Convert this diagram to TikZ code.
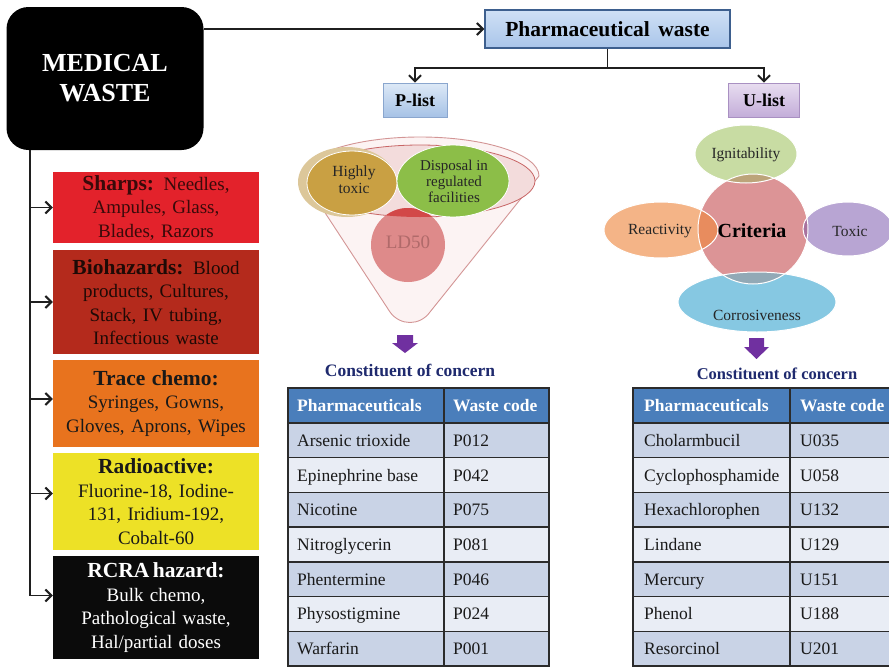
\documentclass[tikz,border=0pt]{standalone}
\usepackage{fontspec}
\setmainfont{Liberation Serif}
\usetikzlibrary{arrows.meta,shapes.geometric}
\newcommand\setsz[2]{\fontsize{#1}{#2}\selectfont}
\newcommand\cathead[1]{{\bfseries\fontsize{21.5}{23.5}\selectfont #1}}

\definecolor{sharpred}{HTML}{E3222B}
\definecolor{sharptxt}{HTML}{3A0A0A}
\definecolor{biored}{HTML}{B42A1C}
\definecolor{biotxt}{HTML}{1E0A06}
\definecolor{traceor}{HTML}{E8731E}
\definecolor{radyel}{HTML}{EDE126}
\definecolor{rcrablk}{HTML}{0B0B0B}
\definecolor{pwtop}{HTML}{CFE0F5}
\definecolor{pwbot}{HTML}{A9C5EA}
\definecolor{pwline}{HTML}{3D5F8E}
\definecolor{pltop}{HTML}{DDE9F7}
\definecolor{plbot}{HTML}{A6C2E6}
\definecolor{plline}{HTML}{8AA6CE}
\definecolor{ultop}{HTML}{E8DDF0}
\definecolor{ulbot}{HTML}{C3ADD9}
\definecolor{ulline}{HTML}{A990C2}
\definecolor{funfill}{HTML}{FCF3F3}
\definecolor{funline}{HTML}{D39595}
\definecolor{innfill}{HTML}{F3DCDC}
\definecolor{innline}{HTML}{C86666}
\definecolor{beige}{HTML}{DCC79A}
\definecolor{gold}{HTML}{C9A043}
\definecolor{leaf}{HTML}{8CBE48}
\definecolor{ldpink}{HTML}{DE8A8A}
\definecolor{ldred}{HTML}{D24848}
\definecolor{ldtxt}{HTML}{B06A6A}
\definecolor{purp}{HTML}{7030A0}
\definecolor{navy}{HTML}{1F2A6E}
\definecolor{ignit}{HTML}{C8DCA3}
\definecolor{react}{HTML}{F4B487}
\definecolor{toxc}{HTML}{B8A5D3}
\definecolor{corro}{HTML}{86C8E2}
\definecolor{crit}{HTML}{DC9496}
\definecolor{ovig}{HTML}{BCA47A}
\definecolor{ovre}{HTML}{E88C5E}
\definecolor{ovto}{HTML}{A8729E}
\definecolor{ovco}{HTML}{92A9B6}
\definecolor{hdrblue}{HTML}{4A7EBB}
\definecolor{rowdark}{HTML}{C9D3E6}
\definecolor{rowlight}{HTML}{E9EDF5}
\definecolor{gridc}{HTML}{2B2B2B}
\definecolor{celltxt}{HTML}{1A1A1A}

\begin{document}
\begin{tikzpicture}[x=1pt,y=-1pt,
  conn/.style={draw=black!88, line width=1.7pt},
  tip/.style={-{Straight Barb[length=6pt,width=12pt,line width=2pt]}},
  catbox/.style={rectangle, minimum width=206pt, text width=204pt, align=center,
    inner sep=0pt, font=\setsz{19}{23.5}},
  listbox/.style={rectangle, line width=0.8pt, minimum height=34pt, inner sep=0pt,
    font=\bfseries\setsz{18}{20}},
  lbl/.style={inner sep=0pt, align=center, text=black!85},
  cell/.style={anchor=base west, inner sep=0pt, text=celltxt, font=\setsz{17.5}{20}},
  hdrtxt/.style={anchor=base west, inner sep=0pt, text=white, font=\bfseries\setsz{17.5}{20}},
  grid/.style={draw=gridc, line width=1.5pt},
  blockarrow/.style={fill=purp},
  coc/.style={inner sep=0pt, text=navy, font=\bfseries\setsz{17.5}{20}}
]
\useasboundingbox (0,0) rectangle (889,667);

% ---------- medical waste and its categories ----------
\node[rectangle, rounded corners=22pt, fill=black, minimum width=197pt, minimum height=143pt,
  inner sep=0pt, align=center, text=white, font=\bfseries\setsz{26}{30}] (med) at (105,78.5)
  {MEDICAL\\WASTE};

\node[catbox, fill=sharpred, text=sharptxt, minimum height=71pt] (sharps) at (156,207.5)
  {\cathead{Sharps:} Needles,\\Ampules, Glass,\\Blades, Razors};
\node[catbox, fill=biored, text=biotxt, minimum height=104pt] (bio) at (156,302)
  {\cathead{Biohazards:} Blood\\products, Cultures,\\Stack, IV tubing,\\Infectious waste};
\node[catbox, fill=traceor, text=black!90, minimum height=87pt] (trace) at (156,403.5)
  {\cathead{Trace chemo:}\\Syringes, Gowns,\\Gloves, Aprons, Wipes};
\node[catbox, fill=radyel, text=black!90, minimum height=97pt] (radio) at (156,501.5)
  {\cathead{Radioactive:}\\Fluorine-18, Iodine-\\131, Iridium-192,\\Cobalt-60};
\node[catbox, fill=rcrablk, text=white, minimum height=103pt] (rcra) at (156,607.5)
  {\cathead{RCRA\,hazard:}\\Bulk chemo,\\Pathological waste,\\Hal/partial doses};

% entry points of the branch arrows
\coordinate (trunk) at ([xshift=24pt]med.south west);
\coordinate (tracein) at ([yshift=4.5pt]trace.west);
\coordinate (radioin) at ([yshift=8pt]radio.west);
\coordinate (rcrain) at ([yshift=12pt]rcra.west);
\draw[conn,tip] (trunk) |- (rcrain);
\draw[conn,tip] (trunk |- sharps.west) -- (sharps.west);
\draw[conn,tip] (trunk |- bio.west) -- (bio.west);
\draw[conn,tip] (trunk |- tracein) -- (tracein);
\draw[conn,tip] (trunk |- radioin) -- (radioin);

% ---------- pharmaceutical waste ----------
\node[rectangle, draw=pwline, line width=1.5pt, top color=pwtop, bottom color=pwbot,
  minimum width=245pt, minimum height=38pt, inner sep=0pt,
  font=\bfseries\setsz{21.5}{24}] (pw) at (607.5,29) {Pharmaceutical\hspace{0.4em}waste};
\draw[conn,tip] (med.east |- pw.west) -- (pw.west);

\node[listbox, draw=plline, top color=pltop, bottom color=plbot, minimum width=64pt]
  (plist) at (415,100) {P-list};
\node[listbox, draw=ulline, top color=ultop, bottom color=ulbot, minimum width=71pt]
  (ulist) at (764,100) {U-list};

\draw[conn] (pw.south) -- ++(0,19) coordinate (fork);
\draw[conn,tip] (fork) -| (plist.north);
\draw[conn,tip] (fork) -| (ulist.north);

% ---------- P-list funnel ----------
\filldraw[fill=funfill, draw=funline, line width=0.9pt]
  (301,176) -- (390,312) .. controls (400,326) and (420,326) .. (430,312)
  -- (539,176) .. controls (539,154.5) and (485.7,137) .. (420,137)
  .. controls (354.3,137) and (301,154.5) .. (301,176) -- cycle;
\filldraw[fill=innfill, draw=innline, line width=0.8pt] (420,181) ellipse [x radius=115, y radius=36];
\fill[beige] (347,182) ellipse [x radius=49, y radius=35];
\fill[ldpink] (408,245) circle [radius=37];
\begin{scope}
  \clip (420,181) ellipse [x radius=115, y radius=36];
  \fill[ldred] (408,245) circle [radius=37];
\end{scope}
\filldraw[fill=gold, draw=white, line width=0.8pt] (352,183) ellipse [x radius=45, y radius=32];
\filldraw[fill=leaf, draw=white, line width=0.8pt] (453,181) ellipse [x radius=56, y radius=36];

\node[lbl, font=\setsz{15.5}{17}] (htox) at (354,180) {Highly\\toxic};
\node[lbl, font=\setsz{15}{16}] (disp) at (454,181) {Disposal in\\regulated\\facilities};
\node[lbl, text=ldtxt, font=\setsz{19}{21}] (ld50) at (408,242) {LD50};

\fill[blockarrow] (397,335) -- (413,335) -- (413,343) -- (418,343) -- (405,353)
  -- (392,343) -- (397,343) -- cycle;
\node[coc] (cocp) at (410,370) {Constituent of concern};

% ---------- U-list criteria ----------
\fill[ignit] (746,154) ellipse [x radius=51, y radius=29];
\fill[react] (661,230) ellipse [x radius=57, y radius=28];
\fill[toxc] (848,229) ellipse [x radius=45, y radius=27];
\fill[corro] (757,302) ellipse [x radius=79, y radius=30];
\fill[crit] (753,229) circle [radius=55];
\begin{scope}
  \clip (746,154) ellipse [x radius=51, y radius=29];
  \fill[ovig] (753,229) circle [radius=55];
\end{scope}
\begin{scope}
  \clip (661,230) ellipse [x radius=57, y radius=28];
  \fill[ovre] (753,229) circle [radius=55];
\end{scope}
\begin{scope}
  \clip (848,229) ellipse [x radius=45, y radius=27];
  \fill[ovto] (753,229) circle [radius=55];
\end{scope}
\begin{scope}
  \clip (757,302) ellipse [x radius=79, y radius=30];
  \fill[ovco] (753,229) circle [radius=55];
\end{scope}
\begin{scope}[draw=white, line width=1pt]
  \draw (746,154) ellipse [x radius=51, y radius=29];
  \draw (661,230) ellipse [x radius=57, y radius=28];
  \draw (848,229) ellipse [x radius=45, y radius=27];
  \draw (757,302) ellipse [x radius=79, y radius=30];
  \draw (753,229) circle [radius=55];
\end{scope}

\node[lbl, font=\setsz{15.5}{18}] (ign) at (746,155) {Ignitability};
\node[lbl, font=\setsz{15.5}{18}] (rea) at (660,231) {Reactivity};
\node[lbl, font=\setsz{15.5}{18}] (tox) at (850,231) {Toxic};
\node[lbl, font=\setsz{15.5}{18}] (cor) at (757,315) {Corrosiveness};
\node[lbl, text=black, font=\bfseries\setsz{20}{22}] (crt) at (752,231) {Criteria};

\fill[blockarrow] (749,338) -- (764,338) -- (764,347) -- (769,347) -- (756.5,359)
  -- (744,347) -- (749,347) -- cycle;
\node[coc, font=\bfseries\setsz{16.5}{19}] (cocu) at (777,374) {Constituent of concern};

% ---------- P-list table ----------
\fill[hdrblue] (288,388) rectangle (549,423);
\node[hdrtxt] (ph1) at (297,411.5) {Pharmaceuticals};
\node[hdrtxt] (ph2) at (453,411.5) {Waste code};
\foreach \nm/\cd [count=\i] in {Arsenic trioxide/P012, Epinephrine base/P042,
    Nicotine/P075, Nitroglycerin/P081, Phentermine/P046, Physostigmine/P024, Warfarin/P001}{
  \pgfmathsetmacro\yt{423+(\i-1)*34.714}
  \ifodd\i\relax\def\rc{rowdark}\else\def\rc{rowlight}\fi
  \fill[\rc] (288,\yt) rectangle (549,\yt+34.714);
  \node[cell] (pn\i) at (297,\yt+23.4) {\nm};
  \node[cell] (pc\i) at (453,\yt+23.4) {\cd};
}
\draw[grid] (288,388) rectangle (549,666);
\draw[grid] (444,388) -- (444,666);
\foreach \i in {0,...,6} \draw[grid] (288,423+\i*34.714) -- (549,423+\i*34.714);

% ---------- U-list table ----------
\fill[hdrblue] (633,388) rectangle (895,423);
\node[hdrtxt] (uh1) at (644,411.5) {Pharmaceuticals};
\node[hdrtxt] (uh2) at (800,411.5) {Waste code};
\foreach \nm/\cd [count=\i] in {Cholarmbucil/U035, Cyclophosphamide/U058,
    Hexachlorophen/U132, Lindane/U129, Mercury/U151, Phenol/U188, Resorcinol/U201}{
  \pgfmathsetmacro\yt{423+(\i-1)*34.714}
  \ifodd\i\relax\def\rc{rowdark}\else\def\rc{rowlight}\fi
  \fill[\rc] (633,\yt) rectangle (895,\yt+34.714);
  \node[cell] (un\i) at (644,\yt+23.4) {\nm};
  \node[cell] (uc\i) at (800,\yt+23.4) {\cd};
}
\draw[grid] (895,388) -- (633,388) -- (633,666) -- (895,666);
\draw[grid] (790,388) -- (790,666);
\foreach \i in {0,...,6} \draw[grid] (633,423+\i*34.714) -- (895,423+\i*34.714);
\end{tikzpicture}
\end{document}
